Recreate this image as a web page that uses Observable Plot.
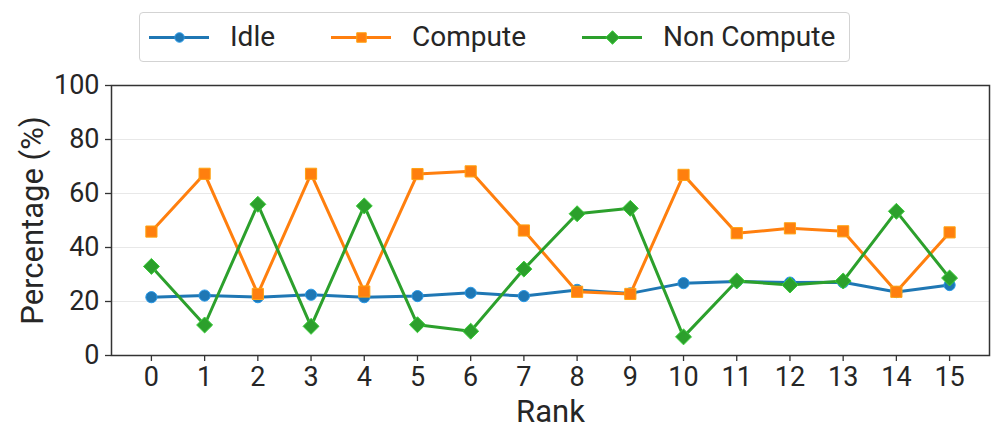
<!DOCTYPE html>
<html>
<head>
<meta charset="utf-8">
<script src="https://cdn.jsdelivr.net/npm/d3@7"></script>
<script src="https://cdn.jsdelivr.net/npm/@observablehq/plot@0.6"></script>
<style>
  html, body { margin: 0; padding: 0; background: #fff; }
  body { width: 996px; height: 443px; overflow: hidden; font-family: Roboto, "DejaVu Sans", sans-serif; color: #262626; }
  #legend { position: relative; height: 72px; }
  #legend .box { position: absolute; left: 139px; top: 12px; width: 711px; height: 50px; box-sizing: border-box;
    border: 1.3px solid #d3d3d3; border-radius: 4px; display: flex; align-items: center; padding-left: 9px; }
  #legend .item { display: flex; align-items: center; margin-right: 56px; }
  #legend .item:last-child { margin-right: 0; }
  #legend .label { font-size: 28px; margin-left: 21px; color: #262626; line-height: 1; }
  #legend svg { display: block; }
</style>
</head>
<body>
<div id="legend"><div class="box"></div></div>
<div id="chart"></div>
<script>
// ---- data ----
const ranks = [0, 1, 2, 3, 4, 5, 6, 7, 8, 9, 10, 11, 12, 13, 14, 15];
const idle = [21.6, 22.2, 21.6, 22.5, 21.6, 22.0, 23.2, 22.0, 24.3, 23.0, 26.8, 27.4, 27.0, 27.1, 23.5, 26.1];
const compute = [45.9, 67.3, 22.8, 67.3, 23.7, 67.2, 68.2, 46.3, 23.6, 22.8, 66.9, 45.3, 47.1, 46.0, 23.6, 45.6];
const nonCompute = [33.0, 11.3, 56.0, 10.8, 55.4, 11.4, 9.0, 32.0, 52.5, 54.5, 6.9, 27.6, 26.1, 27.6, 53.4, 28.7];
const seriesNames = ["Idle", "Compute", "Non Compute"];
const seriesColors = ["#1f77b4", "#ff7f0e", "#2ca02c"];
const seriesSymbols = ["circle", "square", "diamond2"];
const seriesRadius = [5.6, 6.3, 7.2];
const yTicks = [0, 20, 40, 60, 80, 100];
const xLabel = "Rank";
const yLabel = "Percentage (%)";

const seriesValues = [idle, compute, nonCompute];
const series = seriesNames.map((name, i) => ({
  name, color: seriesColors[i], symbol: seriesSymbols[i], r: seriesRadius[i],
  data: ranks.map((rank, j) => ({rank, value: seriesValues[i][j]}))
}));

// ---- legend ----
const box = document.querySelector("#legend .box");
for (const s of series) {
  const item = document.createElement("div");
  item.className = "item";
  const sample = Plot.plot({
    width: 60, height: 20, margin: 0,
    x: {domain: [0, 1], axis: null}, y: {domain: [0, 1], axis: null},
    marks: [
      Plot.lineX([{x: 0, y: 0.5}, {x: 1, y: 0.5}], {x: "x", y: "y", stroke: s.color, strokeWidth: 3}),
      Plot.dot([{x: 0.5, y: 0.5}], {x: "x", y: "y", r: s.r * 0.85, symbol: s.symbol, fill: s.color,
        stroke: d3.color(s.color).brighter(0.7).formatHex(), strokeWidth: 1})
    ]
  });
  item.appendChild(sample);
  const lab = document.createElement("span");
  lab.className = "label";
  lab.textContent = s.name;
  item.appendChild(lab);
  box.appendChild(item);
}

// ---- chart ----
const marks = [
  Plot.gridY(yTicks.slice(1, -1), {stroke: "#e8e8e8", strokeOpacity: 1, strokeWidth: 1}),
];
for (const s of series) {
  marks.push(Plot.line(s.data, {x: "rank", y: "value", stroke: s.color, strokeWidth: 3}));
  marks.push(Plot.dot(s.data, {x: "rank", y: "value", r: s.r, symbol: s.symbol, fill: s.color,
    stroke: d3.color(s.color).brighter(0.7).formatHex(), strokeWidth: 1}));
}
marks.push(
  Plot.frame({stroke: "#333", strokeWidth: 1.5}),
  Plot.axisY(yTicks, {tickSize: 6, tickPadding: 6, fontSize: 27, stroke: "#333", strokeWidth: 1.3, label: null, fill: "#262626"}),
  Plot.axisX(ranks, {tickSize: 6, tickPadding: 5, fontSize: 27, stroke: "#333", strokeWidth: 1.3, label: null, tickFormat: d => String(d), fill: "#262626"}),
  Plot.text([xLabel], {frameAnchor: "bottom", dy: 57, fontSize: 31, fill: "#262626", lineAnchor: "middle", textAnchor: "middle"}),
  Plot.text([yLabel], {frameAnchor: "left", dx: -78, rotate: -90, fontSize: 31, fill: "#262626", lineAnchor: "middle", textAnchor: "middle"})
);

const chart = Plot.plot({
  width: 996, height: 371,
  marginTop: 13, marginBottom: 88, marginLeft: 111, marginRight: 7,
  style: {fontFamily: "Roboto, 'DejaVu Sans', sans-serif", background: "#fff", overflow: "visible"},
  x: {type: "linear", domain: [-0.75, 15.75]},
  y: {domain: [0, 100]},
  marks
});
document.getElementById("chart").appendChild(chart);
</script>
</body>
</html>
